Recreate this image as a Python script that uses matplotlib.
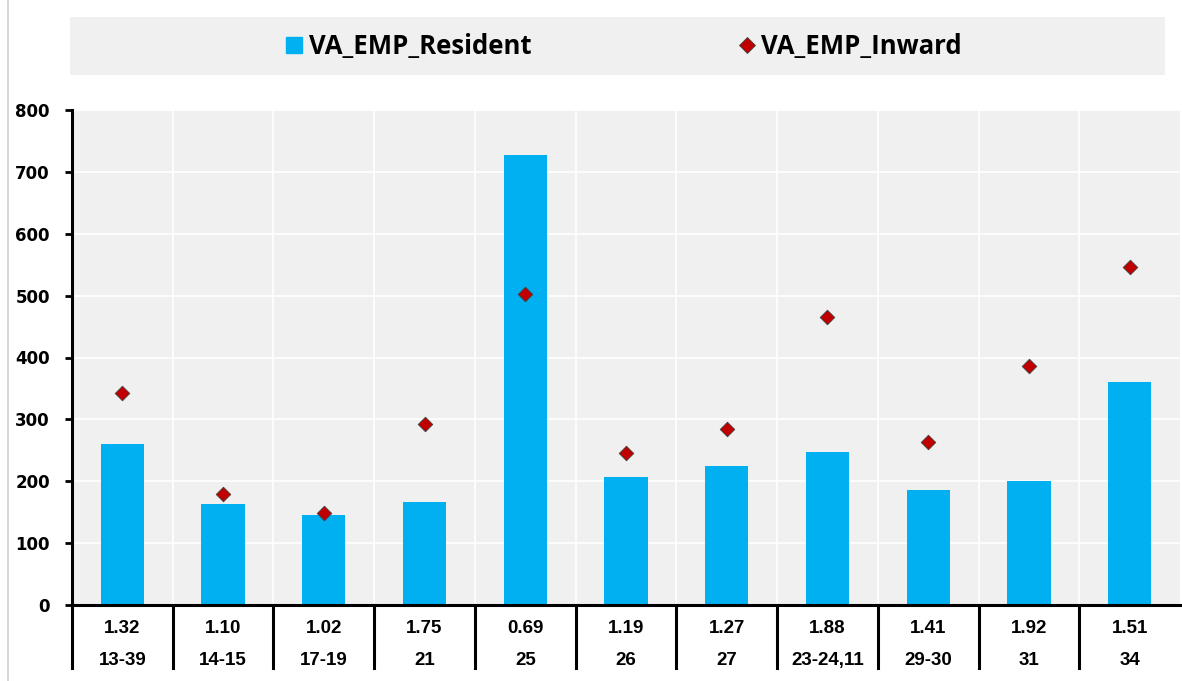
import matplotlib.pyplot as plt
from matplotlib.patches import Rectangle
from matplotlib.lines import Line2D
import matplotlib.transforms as mtransforms

# -----------------------------
# DATA
# -----------------------------
sectors = ["13-39", "14-15", "17-19", "21", "25", "26", "27", "23-24,11", "29-30", "31", "34"]
ratios = ["1.32", "1.10", "1.02", "1.75", "0.69", "1.19", "1.27", "1.88", "1.41", "1.92", "1.51"]
va_emp_resident = [260, 163, 145, 167, 727, 207, 224, 247, 186, 201, 361]
va_emp_inward = [343, 179, 148, 292, 502, 246, 285, 465, 263, 386, 547]

BAR_COLOR = "#00b0f0"
DIAMOND_COLOR = "#c00000"
BG = "#f0f0f0"

# -----------------------------
# FIGURE
# -----------------------------
fig = plt.figure(figsize=(11.82, 6.81), dpi=100)
ax = fig.add_axes([72 / 1182, 1 - 605 / 681, 1108 / 1182, 495 / 681])
ax.set_facecolor(BG)

x = list(range(len(sectors)))
ax.bar(x, va_emp_resident, width=0.43, color=BAR_COLOR, zorder=2)
ax.scatter(x, va_emp_inward, marker="D", s=55, color=DIAMOND_COLOR,
           edgecolor="#404040", linewidth=0.6, zorder=3)

ax.set_xlim(-0.5, len(sectors) - 0.5)
ax.set_ylim(0, 800)
ax.set_yticks(range(0, 801, 100))
ax.set_xticks([])

# white grid
ax.grid(axis="y", color="white", linewidth=1.2, zorder=1)
for i in range(1, len(sectors)):
    ax.axvline(i - 0.5, color="white", linewidth=1.2, zorder=1)

for side in ["top", "right"]:
    ax.spines[side].set_visible(False)
ax.spines["left"].set_linewidth(2.2)
ax.spines["bottom"].set_linewidth(2.2)
ax.tick_params(axis="y", direction="out", length=5, width=2, pad=11)
for lab in ax.get_yticklabels():
    lab.set_fontweight("bold")
    lab.set_fontsize(12)
    lab.set_fontfamily("DejaVu Sans")

# -----------------------------
# TABLE BELOW AXIS
# -----------------------------
trans = mtransforms.blended_transform_factory(ax.transData, ax.transAxes)
for i in range(len(sectors)):
    ax.plot([i - 0.5, i - 0.5], [0, -0.128], color="black", linewidth=2.2,
            transform=trans, clip_on=False)
    ax.text(i, -0.047, ratios[i], transform=trans, ha="center", va="center",
            fontsize=13.5, fontweight="bold", family="Liberation Sans")
    ax.text(i, -0.112, sectors[i], transform=trans, ha="center", va="center",
            fontsize=13.5, fontweight="bold", family="Liberation Sans")

# -----------------------------
# LEGEND
# -----------------------------
fig.patches.append(Rectangle((70 / 1182, 1 - 75 / 681), 1095 / 1182, 58 / 681,
                             transform=fig.transFigure, facecolor=BG,
                             edgecolor="none", zorder=0))
handles = [
    Line2D([], [], marker="s", linestyle="none", markersize=11.5, color=BAR_COLOR),
    Line2D([], [], marker="D", linestyle="none", markersize=8.5,
           markerfacecolor=DIAMOND_COLOR, markeredgecolor="#404040", markeredgewidth=0.6),
]
fig.legend(handles, ["VA_EMP_Resident", "VA_EMP_Inward"], loc="center",
           bbox_to_anchor=(623 / 1182, 1 - 46 / 681), ncol=2, frameon=False,
           prop={"family": "Open Sans", "weight": "bold", "size": 18.5},
           handletextpad=0.15, columnspacing=8.0, handlelength=0.8)

# left border line
fig.add_artist(Line2D([8 / 1182, 8 / 1182], [0, 1], color="#d0d0d0",
                      linewidth=1.2, transform=fig.transFigure))

fig.savefig("out.png", dpi=100)
